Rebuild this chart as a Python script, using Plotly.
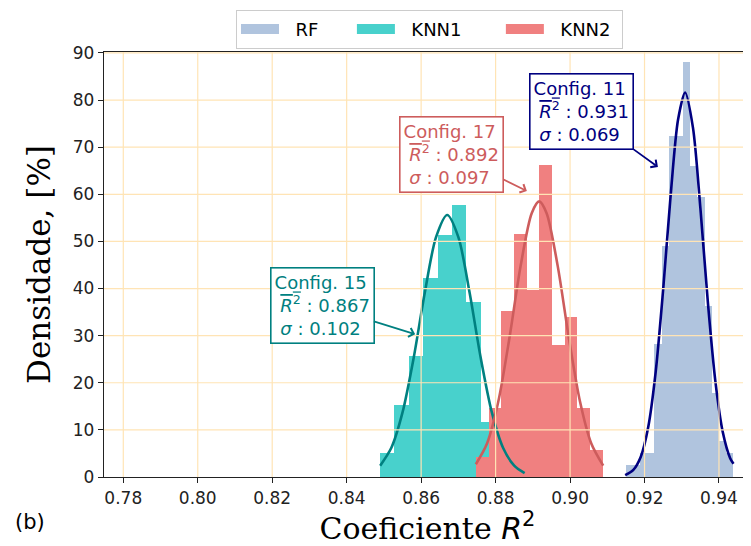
import numpy as np
import plotly.graph_objects as go

# ---------------- data ----------------
series_names = ["RF", "KNN1", "KNN2"]

# histogram bin ranges (first edge, last edge) and bar heights (density, %)
rf_range = (0.91494, 0.94383)
rf_heights = [2.5, 2.5, 5.2, 5.2, 28.2, 49.1, 72.4, 72.4, 88.0, 66.0, 59.5, 36.2, 17.9, 7.7, 5.2]

knn1_range = (0.84895, 0.88763)
knn1_heights = [5.2, 15.3, 25.6, 42.3, 51.4, 57.7, 37.1, 11.6, 9.0, 4.0]

knn2_range = (0.87474, 0.90877)
knn2_heights = [4.3, 14.7, 35.3, 51.5, 39.7, 66.2, 28.0, 33.9, 14.7, 5.7]

# fitted density curves
rf_curve_x = [0.9148, 0.9170, 0.9190, 0.9210, 0.9230, 0.9250, 0.9270, 0.9290, 0.9309,
              0.9330, 0.9350, 0.9370, 0.9390, 0.9410, 0.9430, 0.9439]
rf_curve_y = [0.4, 1.5, 4.3, 10.6, 22.3, 39.7, 59.6, 75.8, 81.6,
              74.2, 57.1, 37.2, 20.5, 9.6, 4.0, 2.8]

knn1_curve_x = [0.8490, 0.8520, 0.8550, 0.8580, 0.8610, 0.8640, 0.8670,
                0.8700, 0.8730, 0.8760, 0.8790, 0.8820, 0.8850, 0.8878]
knn1_curve_y = [2.4, 6.2, 13.7, 25.3, 39.2, 50.9, 55.6,
                50.9, 39.2, 25.3, 13.7, 6.2, 2.4, 0.8]

knn2_curve_x = [0.8747, 0.8777, 0.8807, 0.8837, 0.8867, 0.8897, 0.8917,
                0.8937, 0.8967, 0.8997, 0.9027, 0.9057, 0.9089]
knn2_curve_y = [2.7, 7.1, 15.9, 29.4, 44.7, 56.0, 58.5,
                56.0, 44.7, 29.4, 15.9, 7.1, 2.4]

# annotation contents (RF, KNN2, KNN1 boxes)
ann_config = ["Config. 11", "Config. 17", "Config. 15"]
ann_mean = ["0.931", "0.892", "0.867"]
ann_sigma = ["0.069", "0.097", "0.102"]
ann_tip_x = [0.9236, 0.8884, 0.8584]
ann_tip_y = [65.8, 60.7, 30.3]

x_ticks = [0.78, 0.80, 0.82, 0.84, 0.86, 0.88, 0.90, 0.92, 0.94]
y_ticks = [0, 10, 20, 30, 40, 50, 60, 70, 80, 90]

# ---------------- styles ----------------
bar_colors = ["#B0C4DE", "#48D1CC", "#F08080"]
line_colors = ["#000080", "#008080", "#CD5C5C"]
ann_colors = ["#000080", "#CD5C5C", "#008080"]
grid_color = "#FFE4B5"
ann_offsets = [(-76, -55), (-75, -37), (-93, -29)]
NB = "\u00a0"
legend_pad_after = [5, 6, 1]

fig = go.Figure()

hist_data = [(rf_range, rf_heights), (knn1_range, knn1_heights), (knn2_range, knn2_heights)]
for name, (rng, h), col, pad in zip(series_names, hist_data, bar_colors, legend_pad_after):
    edges = np.linspace(rng[0], rng[1], len(h) + 1)
    centers = (edges[:-1] + edges[1:]) / 2
    widths = np.diff(edges)
    fig.add_trace(go.Bar(x=centers, y=h, width=widths, marker=dict(color=col, line=dict(width=0)),
                         name=name, showlegend=False, legendgroup=name))
    # legend entry with a wide swatch
    fig.add_trace(go.Scatter(x=[None], y=[None], mode="lines", name=NB * 2 + name + NB * pad,
                             legendgroup=name, line=dict(color=col, width=12)))

curves = [(rf_curve_x, rf_curve_y), (knn1_curve_x, knn1_curve_y), (knn2_curve_x, knn2_curve_y)]
for (cx, cy), col in zip(curves, line_colors):
    fig.add_trace(go.Scatter(x=cx, y=cy, mode="lines", showlegend=False,
                             line=dict(color=col, width=2.6, shape="spline", smoothing=0.8),
                             hoverinfo="skip"))

shapes = []
for v in x_ticks:
    shapes.append(dict(type="line", xref="x", yref="paper", x0=v, x1=v, y0=0, y1=1,
                       line=dict(color=grid_color, width=1.2), layer="above"))
for v in y_ticks[1:]:
    shapes.append(dict(type="line", xref="paper", yref="y", x0=0, x1=1, y0=v, y1=v,
                       line=dict(color=grid_color, width=1.2), layer="above"))

annotations = []
for i in range(3):
    txt = (ann_config[i] + "<br>" + NB + "<span style='text-decoration:overline'><i>R</i><sup>2</sup></span> : "
           + ann_mean[i] + "<br>" + NB + "<i>σ</i> : " + ann_sigma[i])
    annotations.append(dict(x=ann_tip_x[i], y=ann_tip_y[i], xref="x", yref="y", text=txt,
                            showarrow=True, ax=ann_offsets[i][0], ay=ann_offsets[i][1],
                            axref="pixel", ayref="pixel", arrowhead=4, arrowsize=1, arrowwidth=1.8,
                            arrowcolor=ann_colors[i], align="left",
                            font=dict(family="DejaVu Sans", size=18, color=ann_colors[i]),
                            bgcolor="white", bordercolor=ann_colors[i], borderwidth=1.6, borderpad=3))
annotations.append(dict(x=-0.1144, y=-0.1067, xref="paper", yref="paper", text="(b)", showarrow=False,
                        xanchor="center", yanchor="middle",
                        font=dict(family="DejaVu Sans", size=21, color="black")))

fig.update_layout(
    width=743, height=538,
    margin=dict(l=96, r=0, t=44, b=69),
    plot_bgcolor="white", paper_bgcolor="white",
    barmode="overlay", bargap=0,
    shapes=shapes, annotations=annotations,
    legend=dict(orientation="h", x=0.204, y=1.0995, xanchor="left", yanchor="top",
                bgcolor="white", bordercolor="#CCCCCC", borderwidth=1,
                font=dict(family="DejaVu Sans", size=18, color="black"),
                itemwidth=38),
    xaxis=dict(range=[0.77482, 0.9486], tickvals=x_ticks, ticktext=[f"{v:.2f}" for v in x_ticks],
               showgrid=False, zeroline=False, showline=True, linecolor="#222", linewidth=1.3,
               mirror=True, ticks="outside", ticklen=5, tickcolor="#222", tickwidth=1.2,
               tickfont=dict(family="DejaVu Sans", size=17, color="#222"),
               title=dict(text="Coeficiente <span style='font-family:DejaVu Sans'><i>R</i><sup>2</sup></span>",
                          font=dict(family="DejaVu Serif", size=30, color="black"), standoff=0)),
    yaxis=dict(range=[0, 90.2], tickvals=y_ticks, showgrid=False, zeroline=False, showline=True,
               linecolor="#222", linewidth=1.3, ticks="outside", ticklen=5, tickcolor="#222", tickwidth=1.2,
               tickfont=dict(family="DejaVu Sans", size=17, color="#222"),
               title=dict(text="Densidade, [%]", font=dict(family="DejaVu Serif", size=31, color="black"),
                          standoff=12)),
)

fig.write_html("out.html")
